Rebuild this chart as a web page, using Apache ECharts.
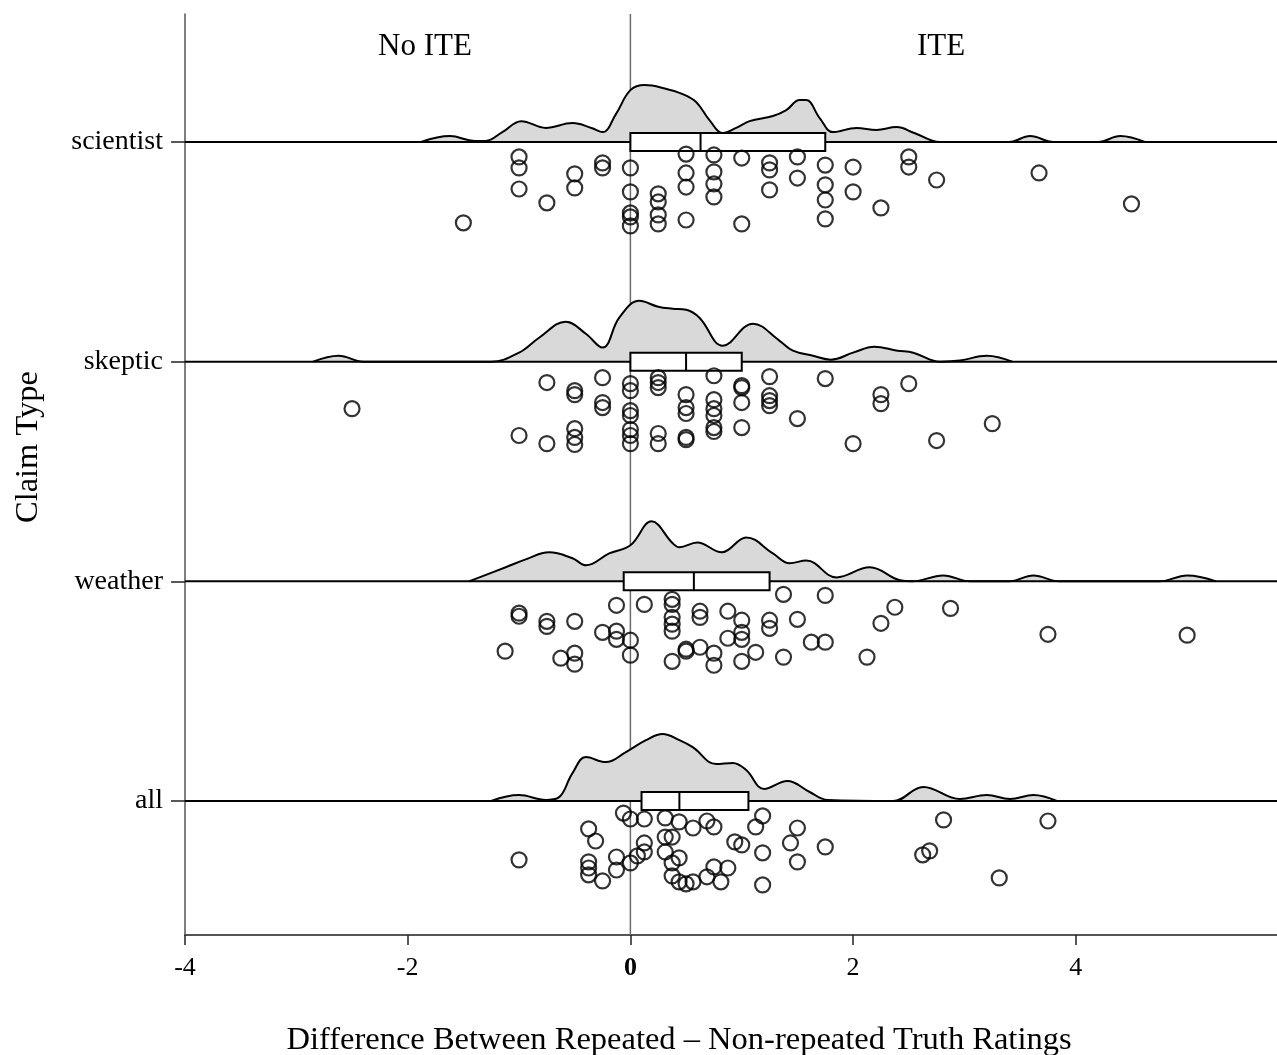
<!DOCTYPE html>
<html><head><meta charset="utf-8">
<script src="https://cdn.jsdelivr.net/npm/echarts@6/dist/echarts.min.js"></script>
<style>html,body{margin:0;padding:0;background:#fff}#c{width:1277px;height:1055px}</style>
</head><body><div id="c"></div>
<script>
// ---------- DATA ----------
const categories = ['scientist', 'skeptic', 'weather', 'all'];
const categoryPos = [1, 2, 3, 4];
const xTicks = [-4, -2, 0, 2, 4];
const X_MIN = -4, X_MAX = 5.807;
const Y_MIN = 0.4173, Y_MAX = 4.61;

// density curves: [x, density height in band units]
const densScientist = [[-1.88,0],[-1.62,.027],[-1.40,.005],[-1.30,.005],[-1.15,.045],[-0.98,.095],[-0.76,.064],[-0.52,.086],[-0.35,.064],[-0.25,.045],[-0.13,.127],[0,.236],[0.13,.259],[0.30,.245],[0.47,.218],[0.59,.182],[0.71,.1],[0.83,.041],[0.95,.064],[1.07,.095],[1.28,.118],[1.40,.145],[1.52,.191],[1.58,.191],[1.70,.109],[1.82,.045],[2.03,.064],[2.21,.055],[2.39,.068],[2.55,.041],[2.78,0],[3.40,0],[3.59,.027],[3.80,0],[4.20,0],[4.40,.027],[4.62,0]];
const densSkeptic = [[-2.85,0],[-2.62,.027],[-2.40,0],[-1.25,0],[-1.0,.041],[-0.82,.109],[-0.58,.182],[-0.40,.127],[-0.25,.064],[-0.10,.2],[0.08,.277],[0.25,.25],[0.38,.241],[0.50,.236],[0.62,.2],[0.83,.073],[1.10,.173],[1.34,.095],[1.46,.05],[1.64,.027],[1.80,.009],[2.00,.041],[2.19,.068],[2.40,.05],[2.54,.041],[2.78,0],[2.96,.005],[3.20,.027],[3.43,0]];
const densWeather = [[-1.45,0],[-1.12,.064],[-0.94,.1],[-0.73,.132],[-0.52,.105],[-0.40,.073],[-0.19,.127],[0,.164],[0.19,.273],[0.38,.173],[0.44,.155],[0.60,.177],[0.82,.132],[1.04,.2],[1.28,.127],[1.43,.082],[1.58,.095],[1.85,.018],[2.15,.064],[2.42,.005],[2.53,0],[2.81,.027],[3.05,0],[3.40,0],[3.62,.027],[3.85,0],[4.75,0],[5.0,.027],[5.26,0]];
const densAll = [[-1.25,0],[-1.0,.027],[-0.76,.005],[-0.65,.014],[-0.52,.127],[-0.40,.2],[-0.22,.177],[-0.04,.223],[0.14,.277],[0.29,.305],[0.44,.277],[0.56,.245],[0.77,.168],[0.92,.173],[1.04,.141],[1.20,.055],[1.41,.091],[1.61,.041],[1.77,.005],[2.36,0],[2.63,.064],[2.96,.009],[3.20,.027],[3.41,.009],[3.62,.027],[3.83,0]];

// box stats: [Q1, median, Q3]
const boxScientist = [0, 0.63, 1.75];
const boxSkeptic = [0, 0.5, 1.0];
const boxWeather = [-0.06, 0.57, 1.25];
const boxAll = [0.10, 0.44, 1.06];

// raw points: x values and vertical jitter (percent of band below baseline)
const ptsScientistX = [-1.5,-1.0,-1.0,-1.0,-0.75,-0.5,-0.5,-0.25,-0.25,0,0,0,0,0,0.25,0.25,0.25,0.25,0.5,0.5,0.5,0.5,0.75,0.75,0.75,0.75,1.0,1.0,1.25,1.25,1.25,1.5,1.5,1.75,1.75,1.75,1.75,2.0,2.0,2.25,2.5,2.5,2.75,3.67,4.5];
const ptsScientistJ = [36.8,6.8,11.8,21.4,27.7,14.5,20.9,9.5,11.8,11.8,22.7,32.3,34.1,38.2,23.6,27.3,33.2,37.3,5.5,14.1,20.5,35.5,5.9,13.6,19.1,25,7.3,37.3,9.5,12.7,21.8,6.8,16.4,10.5,19.5,26.4,35,11.4,22.7,30,6.8,11.4,17.3,14.1,28.2];
const ptsSkepticX = [-2.5,-1.0,-0.75,-0.75,-0.5,-0.5,-0.5,-0.5,-0.5,-0.25,-0.25,-0.25,0,0,0,0,0,0,0,0.25,0.25,0.25,0.25,0.25,0.5,0.5,0.5,0.5,0.5,0.75,0.75,0.75,0.75,0.75,0.75,1.0,1.0,1.0,1.0,1.25,1.25,1.25,1.25,1.5,1.75,2.0,2.25,2.25,2.5,2.75,3.25];
const ptsSkepticJ = [21.4,33.6,9.5,37.3,13.2,15,30.5,34.5,37.7,7.3,18.6,20.9,10,13.2,22.3,24.5,30.9,33.6,37.3,7.3,9.5,11.8,32.7,37.3,15,20.9,23.6,34.5,35.5,6.4,17.3,21.4,24.5,30,31.8,10.9,11.8,18.6,30,6.8,15.5,17.7,20,25.9,7.7,37.3,15,19.1,10,35.9,28.2];
const ptsWeatherX = [-1.125,-1.0,-1.0,-0.75,-0.75,-0.625,-0.5,-0.5,-0.5,-0.25,-0.125,-0.125,-0.125,0,0,0.125,0.375,0.375,0.375,0.375,0.375,0.375,0.5,0.5,0.625,0.625,0.625,0.75,0.75,0.875,0.875,1.0,1.0,1.0,1.0,1.125,1.25,1.25,1.375,1.375,1.5,1.625,1.75,1.75,2.125,2.25,2.375,2.875,3.75,5.0];
const ptsWeatherJ = [31.8,14.5,15.9,18.2,20.5,35,18.2,32.7,37.7,23.2,10.9,22.7,26.4,26.8,33.6,10.5,8.2,10.5,16.4,19.5,22.7,36.4,30.9,31.8,13.6,16.4,30,32.7,38.2,13.6,25.9,17.7,23.2,26.4,36.4,32.3,17.7,21.4,5.9,34.5,17.3,27.7,6.4,27.7,34.5,19.1,11.8,12.3,24.1,24.5];
const ptsAllX = [-1.0,-0.375,-0.3125,-0.375,-0.375,-0.375,-0.25,-0.125,-0.125,-0.0625,0,0,0.0625,0.125,0.125,0.125,0.3125,0.3125,0.375,0.3125,0.375,0.4375,0.4375,0.375,0.4375,0.5,0.5625,0.5625,0.6875,0.75,0.6875,0.75,0.8125,0.875,0.9375,1.0,1.125,1.1875,1.1875,1.1875,1.4375,1.5,1.5,1.75,2.625,2.6875,2.8125,3.3125,3.75];
const ptsAllJ = [26.8,12.7,18.2,27.7,30.5,33.6,36.4,25.5,31.4,5.5,8.2,28.2,25,8.2,19.1,23.2,7.7,16.4,16.4,23.2,28.2,9.5,25.9,34.1,36.8,37.7,12.3,36.8,9.1,11.8,34.5,30,36.8,30.5,18.6,20,11.8,6.8,23.6,38.2,19.1,12.3,27.7,20.9,24.5,22.7,8.6,35,9.1];

const xTitle = 'Difference Between Repeated \u2013 Non-repeated Truth Ratings';
const yTitle = 'Claim Type';
const leftNote = 'No ITE', rightNote = 'ITE';

// ---------- BUILD ----------
const FONT = '"Liberation Serif", "DejaVu Serif", serif';
const densities = [densScientist, densSkeptic, densWeather, densAll];
const boxes = [boxScientist, boxSkeptic, boxWeather, boxAll];
const ptsX = [ptsScientistX, ptsSkepticX, ptsWeatherX, ptsAllX];
const ptsJ = [ptsScientistJ, ptsSkepticJ, ptsWeatherJ, ptsAllJ];

const series = [];
// zero reference line (behind everything)
series.push({
  type: 'line', data: [[0, Y_MIN], [0, Y_MAX]], symbol: 'none', silent: true, z: 1,
  lineStyle: { color: '#6a6a6a', width: 1.5 }
});
categories.forEach((c, i) => {
  const pos = categoryPos[i];
  series.push({
    type: 'line', name: c + ' density', z: 2, silent: true,
    data: densities[i].map(d => [d[0], pos - d[1]]),
    smooth: 0.4, symbol: 'none',
    lineStyle: { color: '#000', width: 2 },
    areaStyle: { color: '#d9d9d9', opacity: 1, origin: pos }
  });
  series.push({
    type: 'line', z: 3, silent: true, symbol: 'none',
    data: [[X_MIN, pos], [X_MAX, pos]],
    lineStyle: { color: '#000', width: 2 }
  });
  series.push({
    type: 'scatter', name: c, z: 5,
    data: ptsX[i].map((x, k) => [x, pos + ptsJ[i][k] / 100]),
    symbol: 'circle', symbolSize: 15,
    itemStyle: { color: 'rgba(0,0,0,0)', borderColor: '#000', borderWidth: 2.2 }
  });
});
series.push({
  type: 'custom', z: 4, silent: true,
  data: boxes.map((b, i) => [b[0], b[1], b[2], categoryPos[i]]),
  encode: { x: [0, 1, 2], y: 3 },
  renderItem(params, api) {
    const pos = api.value(3);
    const p1 = api.coord([api.value(0), pos]);
    const pm = api.coord([api.value(1), pos]);
    const p3 = api.coord([api.value(2), pos]);
    const h = 18;
    return { type: 'group', children: [
      { type: 'rect', shape: { x: p1[0], y: p1[1] - h / 2, width: p3[0] - p1[0], height: h },
        style: { fill: '#fff', stroke: '#000', lineWidth: 2 } },
      { type: 'line', shape: { x1: pm[0], y1: p1[1] - h / 2, x2: pm[0], y2: p1[1] + h / 2 },
        style: { stroke: '#000', lineWidth: 2 } }
    ]};
  }
});

const chart = echarts.init(document.getElementById('c'), null, { renderer: 'canvas' });
chart.setOption({
  animation: false,
  backgroundColor: '#fff',
  grid: { left: 185, right: 0, top: 14, bottom: 120, containLabel: false },
  xAxis: {
    type: 'value', min: X_MIN, max: X_MAX,
    axisLine: { show: true, onZero: false, lineStyle: { color: '#555', width: 2 } },
    axisTick: { show: true, customValues: xTicks, length: 10, lineStyle: { color: '#222', width: 1.5 } },
    axisLabel: {
      customValues: xTicks, fontFamily: FONT, fontSize: 26, color: '#000', margin: 20,
      formatter: v => v === 0 ? '{b|0}' : String(v),
      rich: { b: { fontFamily: FONT, fontSize: 26, fontWeight: 'bold', color: '#000' } }
    },
    splitLine: { show: false }
  },
  yAxis: {
    type: 'value', inverse: true, min: Y_MIN, max: Y_MAX,
    axisLine: { show: true, onZero: false, lineStyle: { color: '#555', width: 1.5 } },
    axisTick: { show: true, customValues: categoryPos, length: 14, lineStyle: { color: '#222', width: 1.5 } },
    axisLabel: {
      customValues: categoryPos, fontFamily: FONT, fontSize: 28, color: '#000', margin: 22,
      formatter: v => categories[Math.round(v) - 1]
    },
    splitLine: { show: false }
  },
  graphic: [
    { type: 'text', x: 425, y: 47, style: { text: leftNote, font: '31px ' + FONT, fill: '#000', align: 'center', verticalAlign: 'middle' } },
    { type: 'text', x: 941, y: 47, style: { text: rightNote, font: '31px ' + FONT, fill: '#000', align: 'center', verticalAlign: 'middle' } },
    { type: 'text', x: 679, y: 1040, style: { text: xTitle, font: '32.5px ' + FONT, fill: '#000', align: 'center', verticalAlign: 'middle' } },
    { type: 'text', x: 28, y: 447, rotation: Math.PI / 2, style: { text: yTitle, font: '32.5px ' + FONT, fill: '#000', align: 'center', verticalAlign: 'middle' } }
  ],
  series
});
</script></body></html>
